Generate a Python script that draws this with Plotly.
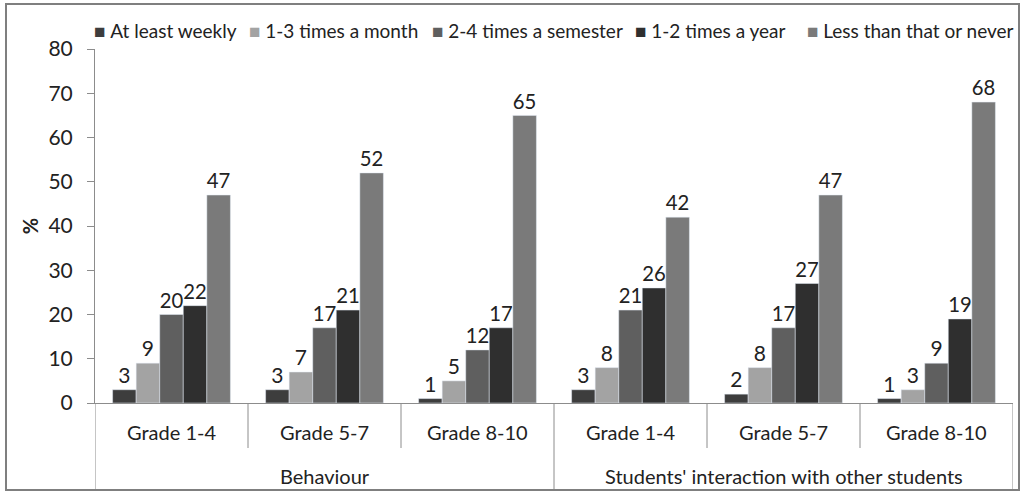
import plotly.graph_objects as go

# ---- data ----
series_names = ["At least weekly", "1-3 times a month", "2-4 times a semester",
                "1-2 times a year", "Less than that or never"]
series_colors = ["#3d3d3d", "#a3a3a3", "#5f5f5f", "#2f2f2f", "#7a7a7a"]
grades = ["Grade 1-4", "Grade 5-7", "Grade 8-10",
          "Grade 1-4", "Grade 5-7", "Grade 8-10"]
groups = ["Behaviour", "Students' interaction with other students"]
at_least_weekly = [3, 3, 1, 3, 2, 1]
times_month = [9, 7, 5, 8, 8, 3]
times_semester = [20, 17, 12, 21, 17, 9]
times_year = [22, 21, 17, 26, 27, 19]
less_never = [47, 52, 65, 42, 47, 68]
series_values = [at_least_weekly, times_month, times_semester, times_year, less_never]
y_ticks = [0, 10, 20, 30, 40, 50, 60, 70, 80]

# ---- layout constants (pixels) ----
W, H = 1020, 492
ML, MR, MT, MB = 95, 7, 49, 89
PW, PH = W - ML - MR, H - MT - MB
FONT = "Lato"
TXT = "#222222"
AXC = "#8c8c8c"


def px_x(p):
    return (p - ML) / PW


def px_y(p):
    return (H - MB - p) / PH


xs = list(range(len(grades)))
fig = go.Figure()
for name, color, vals in zip(series_names, series_colors, series_values):
    fig.add_trace(go.Bar(
        x=xs, y=vals, name=name, marker_color=color,
        text=[str(v) for v in vals], textposition="outside",
        textfont=dict(family=FONT, size=21, color=TXT),
        cliponaxis=False, showlegend=False,
    ))

shapes = []
annotations = []
# category separators
n = len(grades)
per_group = n // len(groups)
for i in range(n + 1):
    xb = i - 0.5
    long = (i % per_group == 0)
    shapes.append(dict(type="line", xref="x", yref="paper", x0=xb, x1=xb,
                       y0=0, y1=px_y(490) if long else px_y(448),
                       line=dict(color=AXC, width=1)))
for i, g in enumerate(grades):
    annotations.append(dict(x=i, y=px_y(432), xref="x", yref="paper", text=g,
                            showarrow=False, yanchor="middle",
                            font=dict(family=FONT, size=20, color=TXT)))
for k, g in enumerate(groups):
    annotations.append(dict(x=k * per_group + (per_group - 1) / 2, y=px_y(476),
                            xref="x", yref="paper", text=g, showarrow=False,
                            yanchor="middle",
                            font=dict(family=FONT, size=20, color=TXT)))

# legend (manual)
legend_x = [92, 247, 430, 633, 805]
for name, color, lx in zip(series_names, series_colors, legend_x):
    annotations.append(dict(
        x=px_x(lx), y=px_y(30), xref="paper", yref="paper", xanchor="left",
        yanchor="middle", showarrow=False,
        text=f'<span style="color:{color}">■</span>\u2005{name}',
        font=dict(family=FONT, size=19, color=TXT)))

# outer border
shapes.append(dict(type="rect", xref="paper", yref="paper",
                   x0=px_x(6), x1=px_x(1019), y0=px_y(490), y1=px_y(4),
                   line=dict(color="#7f7f7f", width=2)))

fig.update_layout(
    width=W, height=H,
    margin=dict(l=ML, r=MR, t=MT, b=MB, pad=0),
    paper_bgcolor="white", plot_bgcolor="white",
    barmode="group", bargap=0.23, bargroupgap=0,
    shapes=shapes, annotations=annotations,
    font=dict(family=FONT, color=TXT),
    xaxis=dict(range=[-0.5, n - 0.5], showticklabels=False, ticks="",
               showgrid=False, zeroline=False, showline=True,
               linecolor=AXC, linewidth=1),
    yaxis=dict(range=[0, 80], tickvals=y_ticks, showgrid=False, zeroline=False,
               showline=True, linecolor=AXC, linewidth=1, ticks="outside",
               ticklen=7, tickcolor=AXC, ticklabelstandoff=10,
               tickfont=dict(family=FONT, size=21, color=TXT),
               title=dict(text="<b>%</b>", standoff=4,
                          font=dict(family=FONT, size=20, color=TXT))),
)

fig.write_html("out.html", config={"displayModeBar": False},
               post_script="document.body.style.margin='0';document.body.style.overflow='hidden';")
